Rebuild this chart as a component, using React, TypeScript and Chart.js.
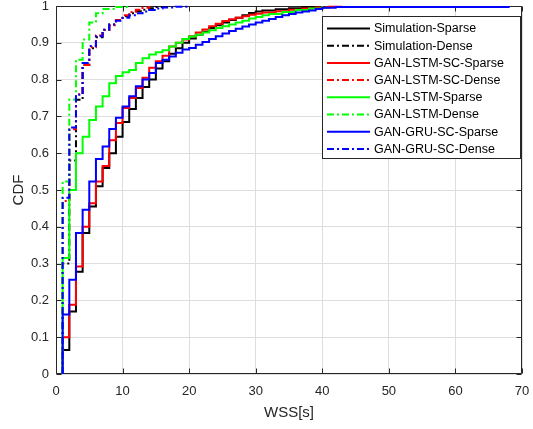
import React, { useEffect, useRef } from 'react';
import { Chart, registerables } from 'chart.js';

Chart.register(...registerables);

// ---- data (WSS in seconds, CDF after each step) ----
const seriesNames = [
  'Simulation-Sparse',
  'Simulation-Dense',
  'GAN-LSTM-SC-Sparse',
  'GAN-LSTM-SC-Dense',
  'GAN-LSTM-Sparse',
  'GAN-LSTM-Dense',
  'GAN-GRU-SC-Sparse',
  'GAN-GRU-SC-Dense',
];
const seriesColors = ['#000000', '#000000', '#ff0000', '#ff0000', '#00ff00', '#00ff00', '#0000ff', '#0000ff'];
const seriesDashed = [false, true, false, true, false, true, false, true];

const simSparseX = [1, 2, 3, 4, 5, 6, 7, 8, 9, 10, 11, 12, 13, 14, 15, 16, 17, 18, 19, 20, 21, 22, 23, 24, 25, 26, 27, 28, 29, 30, 31, 33, 35, 37, 40];
const simSparseY = [0.065, 0.17, 0.278, 0.383, 0.455, 0.51, 0.56, 0.6, 0.645, 0.685, 0.72, 0.75, 0.78, 0.8, 0.83, 0.85, 0.87, 0.885, 0.9, 0.912, 0.922, 0.93, 0.94, 0.948, 0.955, 0.962, 0.968, 0.975, 0.981, 0.985, 0.988, 0.991, 0.994, 0.997, 1.0];

const simDenseX = [1, 2, 3, 4, 5, 6, 7, 8, 9, 10, 11, 12, 13, 14, 15, 17];
const simDenseY = [0.3, 0.58, 0.745, 0.84, 0.885, 0.915, 0.935, 0.95, 0.962, 0.972, 0.98, 0.986, 0.99, 0.994, 0.997, 1.0];

const lstmScSparseX = [1, 2, 3, 4, 5, 6, 7, 8, 9, 10, 11, 12, 13, 14, 15, 16, 17, 18, 19, 20, 21, 22, 23, 24, 25, 26, 27, 28, 29, 30, 31, 33, 35, 37, 39, 41, 43];
const lstmScSparseY = [0.1, 0.188, 0.292, 0.4, 0.464, 0.523, 0.565, 0.635, 0.682, 0.723, 0.75, 0.777, 0.805, 0.832, 0.85, 0.865, 0.89, 0.9, 0.909, 0.918, 0.928, 0.936, 0.945, 0.952, 0.959, 0.964, 0.968, 0.972, 0.976, 0.979, 0.982, 0.986, 0.99, 0.993, 0.996, 0.998, 1.0];

const lstmScDenseX = [1, 2, 3, 4, 5, 6, 7, 8, 9, 10, 11, 12, 13, 14];
const lstmScDenseY = [0.47, 0.665, 0.76, 0.84, 0.888, 0.92, 0.935, 0.948, 0.962, 0.975, 0.984, 0.99, 0.995, 1.0];

const lstmSparseX = [1, 2, 3, 4, 5, 6, 7, 8, 9, 10, 11, 12, 13, 14, 15, 16, 17, 18, 19, 20, 21, 22, 23, 24, 25, 26, 27, 28, 29, 30, 31, 32, 34, 36, 38, 40];
const lstmSparseY = [0.315, 0.5, 0.6, 0.645, 0.69, 0.727, 0.755, 0.79, 0.81, 0.82, 0.826, 0.845, 0.858, 0.868, 0.874, 0.88, 0.89, 0.9, 0.91, 0.917, 0.922, 0.928, 0.934, 0.94, 0.945, 0.95, 0.955, 0.96, 0.966, 0.97, 0.975, 0.978, 0.984, 0.989, 0.993, 1.0];

const lstmDenseX = [1, 2, 3, 4, 5, 6, 7, 9, 11];
const lstmDenseY = [0.523, 0.746, 0.854, 0.909, 0.955, 0.98, 0.992, 0.997, 1.0];

const gruScSparseX = [1, 2, 3, 4, 5, 6, 7, 8, 9, 10, 11, 12, 13, 14, 15, 16, 17, 18, 19, 20, 21, 22, 23, 24, 25, 26, 27, 28, 29, 30, 31, 32, 33, 34, 35, 36, 37, 38, 39, 40, 42, 68];
const gruScSparseY = [0.162, 0.256, 0.383, 0.446, 0.523, 0.584, 0.618, 0.666, 0.696, 0.727, 0.755, 0.782, 0.8, 0.818, 0.845, 0.854, 0.863, 0.873, 0.882, 0.886, 0.895, 0.902, 0.91, 0.918, 0.925, 0.932, 0.938, 0.944, 0.95, 0.955, 0.96, 0.965, 0.97, 0.975, 0.978, 0.982, 0.985, 0.988, 0.992, 0.995, 0.997, 1.0];

const gruScDenseX = [1, 2, 3, 4, 5, 6, 7, 8, 9, 10, 11, 12, 13, 14, 15, 16, 18, 20];
const gruScDenseY = [0.479, 0.67, 0.759, 0.845, 0.891, 0.918, 0.936, 0.95, 0.96, 0.968, 0.975, 0.98, 0.985, 0.989, 0.993, 0.996, 0.998, 1.0];

const seriesX = [simSparseX, simDenseX, lstmScSparseX, lstmScDenseX, lstmSparseX, lstmDenseX, gruScSparseX, gruScDenseX];
const seriesY = [simSparseY, simDenseY, lstmScSparseY, lstmScDenseY, lstmSparseY, lstmDenseY, gruScSparseY, gruScDenseY];

const xTicks = [0, 10, 20, 30, 40, 50, 60, 70];
const yTicks = [0, 0.1, 0.2, 0.3, 0.4, 0.5, 0.6, 0.7, 0.8, 0.9, 1];
const yTickLabels = ['0', '0.1', '0.2', '0.3', '0.4', '0.5', '0.6', '0.7', '0.8', '0.9', '1'];
const xTitle = 'WSS[s]';
const yTitle = 'CDF';

const FONT = "'Liberation Sans', Arial, Helvetica, sans-serif";
const AXIS = '#262626';
const DASH = [7, 3, 2, 3];

const framePlugin = {
  id: 'matlabFrame',
  beforeDatasetsDraw(chart: any) {
    const { ctx, chartArea: a, scales } = chart;
    const L = Math.round(a.left) + 0.5;
    const R = Math.round(a.right) - 0.5;
    const T = Math.round(a.top) + 0.5;
    const B = Math.round(a.bottom) - 0.5;
    const tl = 5;
    ctx.save();
    ctx.strokeStyle = AXIS;
    ctx.lineWidth = 1;
    ctx.beginPath();
    ctx.rect(L, T, R - L, B - T);
    xTicks.forEach((v) => {
      const px = Math.round(scales.x.getPixelForValue(v)) + 0.5;
      ctx.moveTo(px, B);
      ctx.lineTo(px, B - tl);
      ctx.moveTo(px, T);
      ctx.lineTo(px, T + tl);
    });
    yTicks.forEach((v) => {
      const py = Math.round(scales.y.getPixelForValue(v)) + 0.5;
      ctx.moveTo(L, py);
      ctx.lineTo(L + tl, py);
      ctx.moveTo(R, py);
      ctx.lineTo(R - tl, py);
    });
    ctx.stroke();
    ctx.restore();
  },
};

const legendPlugin = {
  id: 'matlabLegend',
  afterDraw(chart: any) {
    const { ctx } = chart;
    const left = 322.5;
    const top = 16.5;
    const w = 198;
    const h = 142;
    const row0 = 28.5;
    const rowH = 17.2;
    ctx.save();
    ctx.fillStyle = '#ffffff';
    ctx.fillRect(left, top, w, h);
    ctx.strokeStyle = AXIS;
    ctx.lineWidth = 1;
    ctx.strokeRect(left, top, w, h);
    ctx.font = `12.5px ${FONT}`;
    ctx.textBaseline = 'middle';
    ctx.textAlign = 'left';
    seriesNames.forEach((name, i) => {
      const y = row0 + i * rowH;
      ctx.beginPath();
      ctx.strokeStyle = seriesColors[i];
      ctx.lineWidth = 2;
      ctx.setLineDash(seriesDashed[i] ? DASH : []);
      ctx.moveTo(327, y);
      ctx.lineTo(370, y);
      ctx.stroke();
      ctx.setLineDash([]);
      ctx.fillStyle = '#000000';
      ctx.fillText(name, 374, y + 0.5);
    });
    ctx.restore();
  },
};

export default function App() {
  const ref = useRef<HTMLCanvasElement>(null);
  useEffect(() => {
    const canvas = ref.current;
    if (!canvas) return;
    const datasets = seriesNames.map((name, i) => {
      const xs = seriesX[i];
      const ys = seriesY[i];
      const pts = [{ x: xs[0], y: 0 }].concat(xs.map((x, k) => ({ x, y: ys[k] })));
      return {
        label: name,
        data: pts,
        borderColor: seriesColors[i],
        backgroundColor: seriesColors[i],
        borderWidth: 2,
        borderDash: seriesDashed[i] ? DASH : [],
        pointRadius: 0,
        pointHoverRadius: 0,
        fill: false,
        stepped: 'before' as const,
        tension: 0,
        order: seriesNames.length - i,
        clip: 2,
      };
    });
    const chart = new Chart(canvas, {
      type: 'line',
      data: { datasets },
      plugins: [framePlugin, legendPlugin],
      options: {
        animation: false,
        responsive: false,
        maintainAspectRatio: false,
        layout: { padding: { top: 6, right: 11, left: 0, bottom: 0 } },
        plugins: {
          legend: { display: false },
          tooltip: { enabled: false },
        },
        scales: {
          x: {
            type: 'linear',
            min: 0,
            max: 70,
            afterBuildTicks: (s: any) => {
              s.ticks = xTicks.map((v) => ({ value: v }));
            },
            afterFit: (s: any) => {
              s.height = 55;
              s.paddingLeft = 0;
              s.paddingRight = 0;
            },
            ticks: {
              color: AXIS,
              font: { family: FONT, size: 13 },
              padding: 10,
              maxRotation: 0,
              autoSkip: false,
              callback: (v: any) => String(v),
            },
            grid: { color: '#dedede', lineWidth: 1, drawTicks: false },
            border: { display: false },
            title: {
              display: true,
              text: xTitle,
              color: AXIS,
              font: { family: FONT, size: 15 },
              padding: { top: 0, bottom: 7 },
            },
          },
          y: {
            type: 'linear',
            min: 0,
            max: 1,
            afterBuildTicks: (s: any) => {
              s.ticks = yTicks.map((v) => ({ value: v }));
            },
            afterFit: (s: any) => {
              s.width = 56;
              s.paddingTop = 0;
              s.paddingBottom = 0;
            },
            ticks: {
              color: AXIS,
              font: { family: FONT, size: 13 },
              padding: 7,
              autoSkip: false,
              callback: (v: any, idx: number) => yTickLabels[idx],
            },
            grid: { color: '#dedede', lineWidth: 1, drawTicks: false },
            border: { display: false },
            title: {
              display: true,
              text: yTitle,
              color: AXIS,
              font: { family: FONT, size: 15 },
              padding: { top: 10, bottom: 0 },
            },
          },
        },
      },
    });
    return () => chart.destroy();
  }, []);
  return (
    <div style={{ position: 'absolute', left: 0, top: 0, width: 533, height: 429, background: '#fff' }}>
      <canvas ref={ref} width={533} height={429} style={{ width: 533, height: 429, display: 'block' }} />
    </div>
  );
}
